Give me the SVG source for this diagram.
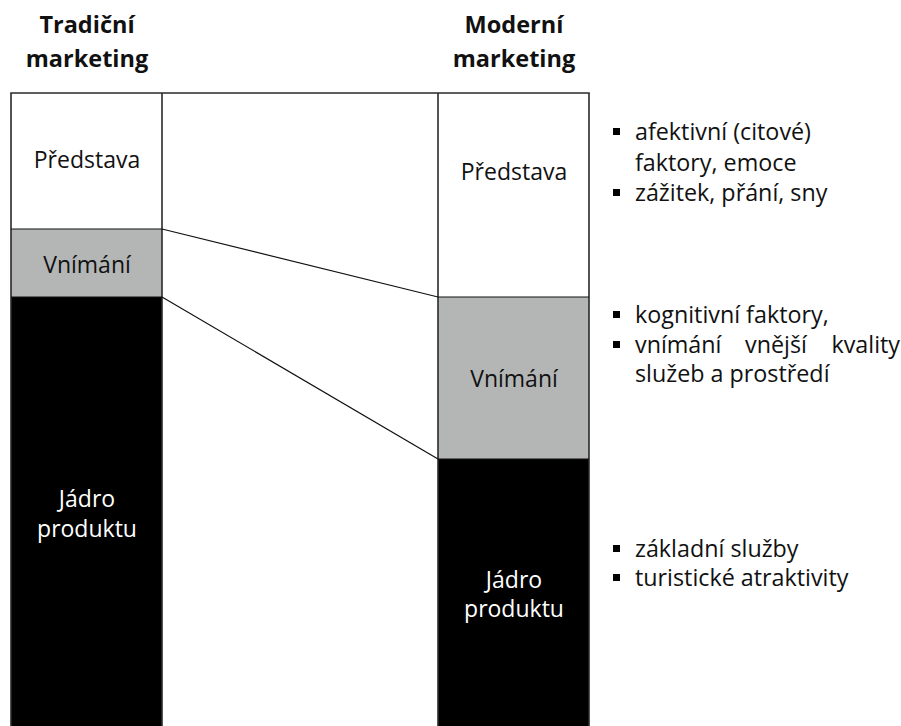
<svg xmlns="http://www.w3.org/2000/svg" width="901" height="726" viewBox="0 0 901 726">
  <style>
    text { font-family: "Open Sans", "Noto Sans", "Liberation Sans", sans-serif; fill: #111; }
    .head { font-size: 23.5px; font-weight: bold; text-anchor: middle; }
    .lbl { font-size: 23px; text-anchor: middle; }
    .inv { fill: #ffffff; }
    .item { font-size: 23.3px; }
    .frame { fill: none; stroke: #2a2a2a; stroke-width: 1.6; }
    .grey { fill: #b4b6b6; }
    .dark { fill: #000000; }
    .edge { stroke: #111; stroke-width: 1.2; fill: none; }
  </style>
  <defs>
    <rect id="bullet" width="7" height="7" fill="#000"/>
  </defs>

  <rect width="901" height="726" fill="#ffffff"/>

  <!-- column headings -->
  <g id="heading-traditional">
    <text class="head" x="87" y="33">Tradiční</text>
    <text class="head" x="87" y="67">marketing</text>
  </g>
  <g id="heading-modern">
    <text class="head" x="514" y="33">Moderní</text>
    <text class="head" x="514" y="67">marketing</text>
  </g>

  <!-- traditional column -->
  <g id="trad-predstava">
    <rect x="11" y="93" width="151" height="136" fill="#ffffff"/>
    <text class="lbl" x="87" y="168">Představa</text>
  </g>
  <g id="trad-vnimani">
    <rect class="grey" x="11" y="229" width="151" height="68"/>
    <text class="lbl" x="87" y="273">Vnímání</text>
  </g>
  <g id="trad-jadro">
    <rect class="dark" x="11" y="297" width="151" height="429"/>
    <text class="lbl inv" x="87" y="507">Jádro</text>
    <text class="lbl inv" x="87" y="537">produktu</text>
  </g>

  <!-- modern column -->
  <g id="mod-predstava">
    <rect x="438" y="93" width="151" height="204" fill="#ffffff"/>
    <text class="lbl" x="514" y="180">Představa</text>
  </g>
  <g id="mod-vnimani">
    <rect class="grey" x="438" y="297" width="151" height="162"/>
    <text class="lbl" x="514" y="387">Vnímání</text>
  </g>
  <g id="mod-jadro">
    <rect class="dark" x="438" y="459" width="151" height="267"/>
    <text class="lbl inv" x="514" y="588">Jádro</text>
    <text class="lbl inv" x="514" y="617">produktu</text>
  </g>

  <!-- outline of both columns and the band between them -->
  <g id="outline">
    <path class="frame" d="M11 726 V93 H589 V726"/>
    <path class="frame" d="M162 93 V726"/>
    <path class="frame" d="M438 93 V726"/>
    <path class="edge" d="M11 229 H162 M11 297 H162 M438 297 H589 M438 459 H589"/>
  </g>

  <!-- connectors between the layer boundaries -->
  <g id="connectors">
    <line class="edge" x1="162" y1="229" x2="438" y2="297"/>
    <line class="edge" x1="162" y1="297" x2="438" y2="459"/>
  </g>

  <!-- notes for the modern column -->
  <g id="notes-predstava">
    <use href="#bullet" x="613" y="128"/>
    <text class="item" x="635" y="140">afektivní (citové)</text>
    <text class="item" x="635" y="171">faktory, emoce</text>
    <use href="#bullet" x="613" y="189"/>
    <text class="item" x="635" y="201">zážitek, přání, sny</text>
  </g>
  <g id="notes-vnimani">
    <use href="#bullet" x="613" y="311"/>
    <text class="item" x="635" y="323">kognitivní faktory,</text>
    <use href="#bullet" x="613" y="341"/>
    <!-- justified line: words spread across the full column width -->
    <text class="item" y="353"><tspan x="635">vnímání</tspan><tspan x="745">vnější</tspan><tspan x="900" text-anchor="end">kvality</tspan></text>
    <text class="item" x="635" y="382">služeb a prostředí</text>
  </g>
  <g id="notes-jadro">
    <use href="#bullet" x="613" y="545"/>
    <text class="item" x="635" y="557">základní služby</text>
    <use href="#bullet" x="613" y="574"/>
    <text class="item" x="635" y="586">turistické atraktivity</text>
  </g>
</svg>
